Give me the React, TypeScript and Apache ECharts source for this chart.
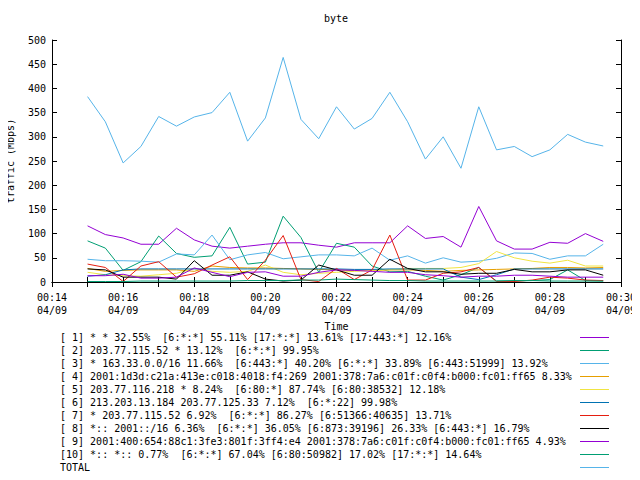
import React, { useEffect, useRef } from "react";
import * as echarts from "echarts";

const TIMES = [
  "00:15:00", "00:15:30", "00:16:00", "00:16:30", "00:17:00", "00:17:30",
  "00:18:00", "00:18:30", "00:19:00", "00:19:30", "00:20:00", "00:20:30",
  "00:21:00", "00:21:30", "00:22:00", "00:22:30", "00:23:00", "00:23:30",
  "00:24:00", "00:24:30", "00:25:00", "00:25:30", "00:26:00", "00:26:30",
  "00:27:00", "00:27:30", "00:28:00", "00:28:30", "00:29:00", "00:29:30",
];

const NAMES = [
  "[ 1] * * 32.55%  [6:*:*] 55.11% [17:*:*] 13.61% [17:443:*] 12.16%",
  "[ 2] 203.77.115.52 * 13.12%  [6:*:*] 99.95%",
  "[ 3] * 163.33.0.0/16 11.66%  [6:443:*] 40.20% [6:*:*] 33.89% [6:443:51999] 13.92%",
  "[ 4] 2001:1d3d:c21a:413e:c018:4018:f4:269 2001:378:7a6:c01f:c0f4:b000:fc01:ff65 8.33%",
  "[ 5] 203.77.116.218 * 8.24%  [6:80:*] 87.74% [6:80:38532] 12.18%",
  "[ 6] 213.203.13.184 203.77.125.33 7.12%  [6:*:22] 99.98%",
  "[ 7] * 203.77.115.52 6.92%  [6:*:*] 86.27% [6:51366:40635] 13.71%",
  "[ 8] *:: 2001::/16 6.36%  [6:*:*] 36.05% [6:873:39196] 26.33% [6:443:*] 16.79%",
  "[ 9] 2001:400:654:88c1:3fe3:801f:3ff4:e4 2001:378:7a6:c01f:c0f4:b000:fc01:ff65 4.93%",
  "[10] *:: *:: 0.77%  [6:*:*] 67.04% [6:80:50982] 17.02% [17:*:*] 14.64%",
  "TOTAL",
];

const COLORS = [
  "#9400d3", "#009e73", "#56b4e9", "#e69f00", "#f0e442", "#0072b2",
  "#e51e10", "#000000", "#9400d3", "#009e73", "#56b4e9",
];

const S1 = [116, 98, 91, 78, 78, 111, 87, 74, 70, 74, 78, 81, 81, 76, 72, 81, 81, 81, 116, 90, 94, 72, 156, 85, 68, 68, 82, 80, 100, 84];
const S2 = [85, 70, 24, 42, 95, 59, 51, 54, 113, 37, 41, 136, 92, 20, 80, 72, 33, 21, 22, 12, 4, 15, 30, 2, 2, 3, 5, 25, 3, 2];
const S3 = [47, 44, 44, 43, 41, 58, 56, 97, 46, 56, 61, 48, 52, 56, 56, 54, 70, 45, 54, 39, 50, 41, 43, 49, 60, 59, 47, 54, 54, 78];
const S4 = [28, 22, 24, 25, 25, 25, 22, 33, 30, 29, 29, 28, 27, 26, 25, 24, 24, 25, 25, 24, 22, 24, 25, 26, 27, 28, 30, 30, 29, 30];
const S5 = [20, 15, 13, 12, 15, 18, 28, 22, 20, 22, 35, 20, 15, 18, 20, 22, 24, 25, 28, 28, 28, 30, 38, 63, 50, 43, 39, 45, 33, 33];
const S6 = [12, 15, 25, 27, 27, 27, 27, 27, 27, 27, 27, 27, 27, 27, 27, 26, 26, 27, 27, 27, 27, 10, 5, 15, 27, 27, 27, 27, 27, 27];
const S7 = [37, 30, 1, 33, 42, 10, 17, 35, 52, 5, 45, 96, 5, 1, 28, 5, 25, 97, 4, 4, 18, 21, 30, 1, 1, 4, 10, 8, 4, 3];
const S8 = [27, 25, 10, 10, 10, 6, 44, 14, 14, 21, 6, 2, 4, 35, 25, 14, 14, 47, 28, 21, 21, 16, 18, 18, 26, 21, 21, 25, 25, 14];
const S9 = [13, 13, 16, 8, 8, 10, 29, 20, 11, 20, 21, 12, 12, 20, 25, 24, 22, 20, 20, 15, 13, 10, 12, 12, 14, 14, 12, 10, 10, 10];
const S10 = [1, 1, 1, 2, 2, 2, 2, 2, 2, 3, 3, 3, 4, 4, 6, 5, 4, 3, 3, 2, 2, 2, 2, 2, 3, 3, 2, 2, 2, 2];
const TOTAL = [383, 331, 246, 280, 342, 322, 341, 350, 392, 291, 339, 464, 336, 296, 362, 316, 338, 392, 331, 254, 300, 235, 362, 273, 280, 259, 273, 305, 289, 281];

const SERIES_VALUES = [S1, S2, S3, S4, S5, S6, S7, S8, S9, S10, TOTAL];

const X_MIN = 14;
const X_MAX = 30;
const DATE_LABEL = "04/09";

const FONT = "DejaVu Sans Mono";

const toMinutes = (t: string) => {
  const [h, m, s] = t.split(":").map(Number);
  return h * 60 + m + s / 60;
};

const pad = (n: number) => (n < 10 ? "0" + n : "" + n);

export default function App() {
  const ref = useRef<HTMLDivElement>(null);
  useEffect(() => {
    if (!ref.current) return;
    const chart = echarts.init(ref.current, null, { renderer: "svg" });
    const textBase = { fontFamily: FONT, fontSize: 10, color: "#000" };
    const axisLine = { show: true, lineStyle: { color: "#000", width: 1 } };
    const tick = { show: true, inside: true, length: 5, lineStyle: { color: "#000" } };
    const xCommon = {
      type: "value" as const,
      min: X_MIN,
      max: X_MAX,
      interval: 2,
      axisLine,
      axisTick: tick,
      minorTick: { show: true, splitNumber: 2, length: 5, lineStyle: { color: "#000" } },
      splitLine: { show: false },
      minorSplitLine: { show: false },
    };
    const yCommon = {
      type: "value" as const,
      min: 0,
      max: 500,
      interval: 50,
      axisLine,
      axisTick: tick,
      splitLine: { show: false },
    };
    const legendCommon = {
      type: "plain" as const,
      orient: "vertical" as const,
      top: 331,
      padding: 0,
      itemGap: 0,
      itemHeight: 13,
      selectedMode: false,
      data: NAMES,
    };
    chart.setOption({
      animation: false,
      backgroundColor: "#fff",
      title: {
        text: "byte",
        left: 324,
        top: 12,
        padding: 0,
        textStyle: { ...textBase, fontWeight: "normal", lineHeight: 13 },
      },
      grid: { left: 52, right: 19, top: 40, bottom: 198, containLabel: false, outerBoundsMode: "none" },
      xAxis: [
        {
          ...xCommon,
          position: "bottom",
          name: "Time",
          nameLocation: "middle",
          nameGap: 39,
          nameMoveOverlap: false,
          nameTextStyle: textBase,
          axisLabel: {
            ...textBase,
            margin: 9,
            lineHeight: 13,
            formatter: (v: number) => `${pad(Math.floor(v / 60))}:${pad(v % 60)}\n${DATE_LABEL}`,
          },
        },
        {
          ...xCommon,
          position: "top",
          axisLabel: { show: false },
        },
      ],
      yAxis: [
        {
          ...yCommon,
          position: "left",
          name: "traffic (Mbps)",
          nameLocation: "middle",
          nameGap: 37,
          nameMoveOverlap: false,
          nameTextStyle: textBase,
          axisLabel: { ...textBase, margin: 6 },
        },
        {
          ...yCommon,
          position: "right",
          axisLabel: { show: false },
        },
      ],
      legend: [
        {
          ...legendCommon,
          left: 55,
          align: "left",
          itemWidth: 0,
          icon: "rect",
          itemStyle: { opacity: 0 },
          textStyle: { ...textBase, lineHeight: 13, height: 13 },
        },
        {
          ...legendCommon,
          left: 580,
          align: "left",
          itemWidth: 29,
          icon: "path://M0,0H29V1H0Z",
          formatter: () => " ",
          textStyle: { ...textBase, lineHeight: 13, height: 13 },
        },
      ],
      series: SERIES_VALUES.map((vals, i) => ({
        type: "line",
        name: NAMES[i],
        xAxisIndex: 0,
        yAxisIndex: 0,
        symbol: "none",
        color: COLORS[i],
        lineStyle: { width: 1, color: COLORS[i] },
        data: TIMES.map((t, j) => [toMinutes(t), vals[j]]),
      })),
    });
    return () => chart.dispose();
  }, []);
  return <div ref={ref} style={{ width: 640, height: 480, margin: -8 }} />;
}
